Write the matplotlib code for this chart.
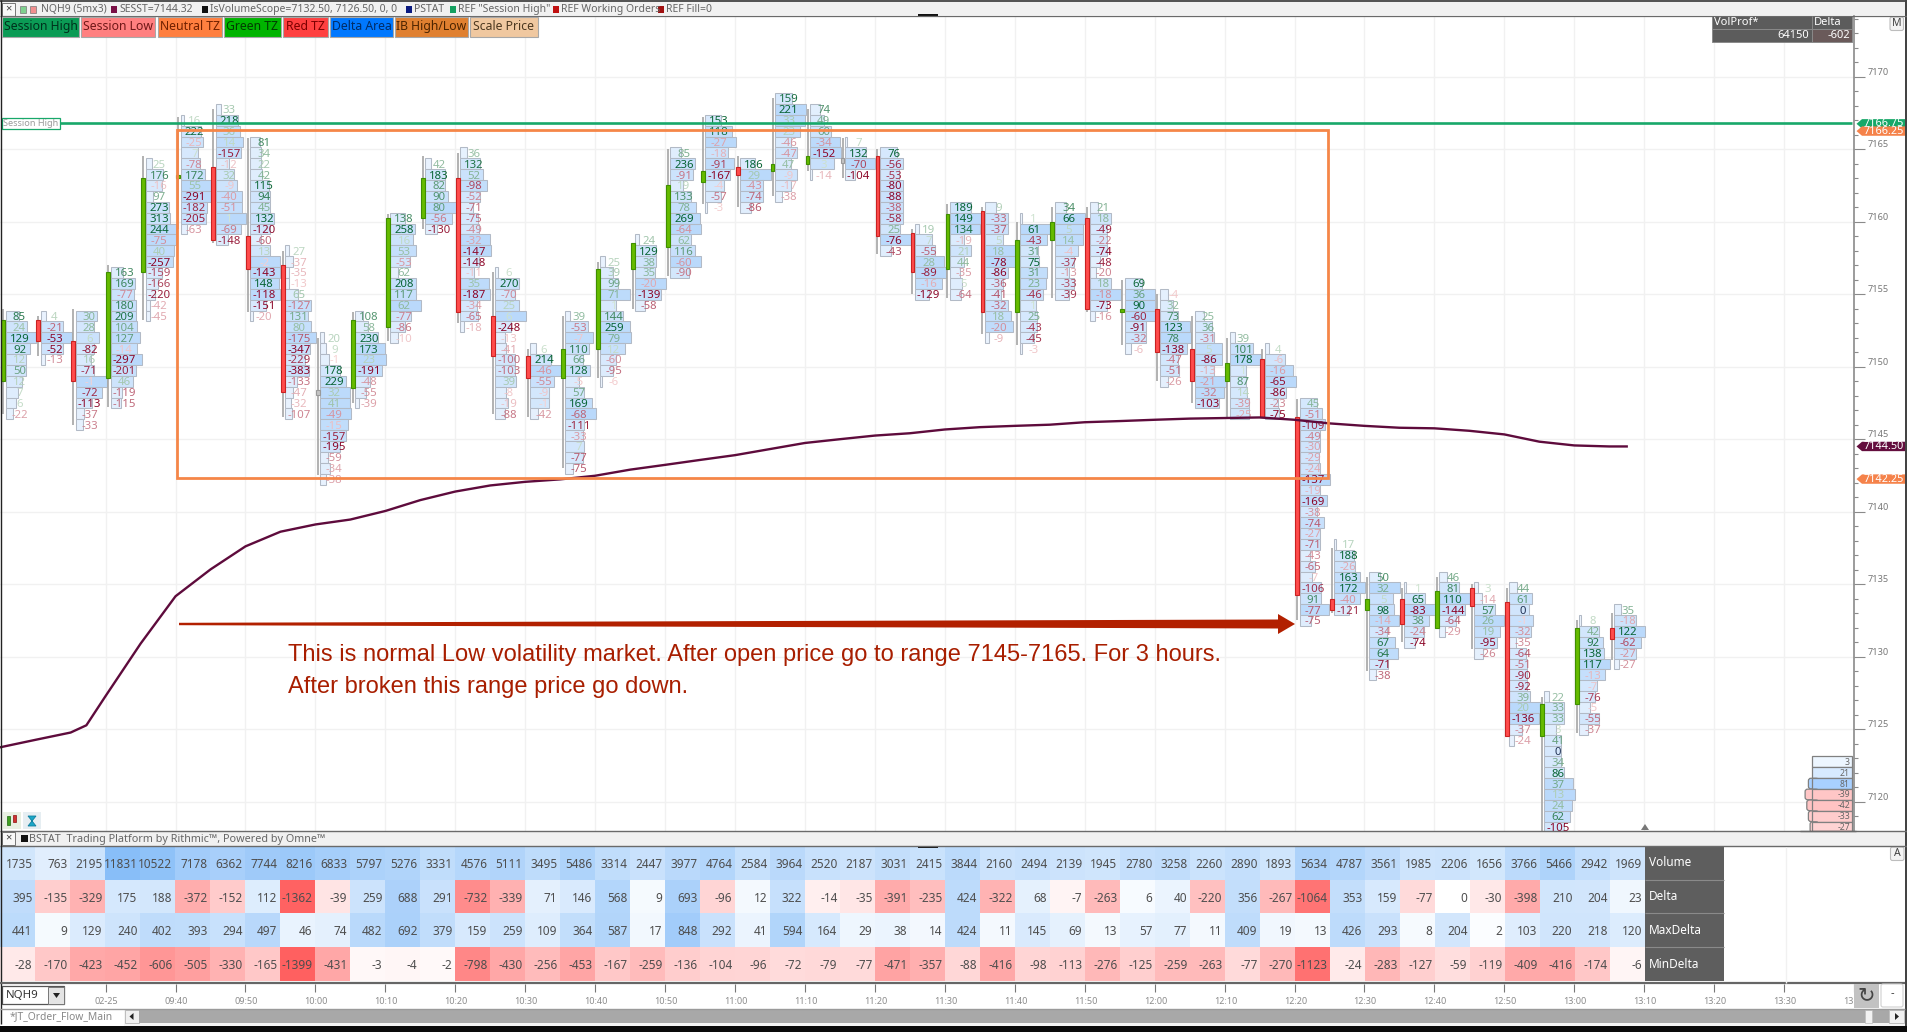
#!/usr/bin/env python3
"""Order flow footprint chart of NQH9 with the BSTAT table underneath."""
import matplotlib
matplotlib.use("Agg")
import matplotlib.pyplot as plt
from matplotlib.patches import FancyBboxPatch, Polygon, Rectangle

W, H = 1908, 1032
PANE_BOTTOM = 831
PANE_TOP = 16
AXIS_X = 1854
PX_PER_BAR = 35.0
X0 = 0.7
PX_PER_POINT = 14.5
ROW = 0.75

bar_tops = [7153.5, 7153.5, 7153.5, 7156.5, 7164, 7167, 7167.75, 7165.5, 7158, 7152, 7153.5, 7160.25,
            7164, 7164.75, 7156.5, 7151.25, 7153.5, 7157.25, 7158.75, 7164.75, 7167, 7164, 7168.5, 7167.75,
            7165.5, 7164.75, 7159.5, 7161, 7161, 7160.25, 7161, 7161, 7155.75, 7155, 7153.5, 7152,
            7151.25, 7147.5, 7137.75, 7135.5, 7134.75, 7135.5, 7134.75, 7134.75, 7127.25, 7132.5, 7133.25]

bar_deltas = [
    [85, 24, 129, 92, 12, 50, 12, 7, 6, -22],
    [4, -21, -53, -52, -13],
    [30, 28, 6, -82, 16, -71, -1, -72, -113, -37, -33],
    [163, 169, -77, 180, 209, 104, 127, -14, -297, -201, 46, -119, -115],
    [25, 176, -16, 97, 273, 313, 244, -75, 40, -257, -159, -166, -220, -42, -45],
    [16, 222, -25, 7, -78, 172, 55, -291, -182, -205, -63],
    [33, 218, 36, 14, -157, -12, 32, -9, -40, -51, 1, -69, -148],
    [81, 34, 22, 42, 115, 94, 45, 132, -120, -60, 13, -2, -143, 148, -118, -151, -20],
    [27, -37, -35, -13, 65, -127, 131, 80, -175, -347, -229, -383, -133, -47, -32, -107],
    [20, 9, -1, 178, 229, 32, 41, -49, -15, -157, -195, -59, -34, -38],
    [108, 58, 230, 173, 23, -191, -48, -55, -39],
    [138, 258, 16, 53, -53, 62, 208, 117, 62, -77, -86, -10],
    [42, 183, 82, 90, 80, -56, -130],
    [36, 132, 52, -98, -52, -71, -75, -49, -32, -147, -148, -11, 35, -187, -34, -65, -18],
    [6, 270, -70, 25, 6, -248, -13, -41, -100, -103, 39, -8, -19, -88],
    [6, 214, -46, -55, -9, -1, -42],
    [39, -53, -7, 110, 66, 128, -5, 57, 169, -68, -111, -33, 7, -77, -75],
    [25, 39, 99, 71, 1, 144, 259, 79, 12, -60, -95, -6],
    [24, 129, 38, 35, -20, -139, -58],
    [85, 236, -91, 19, 133, 78, 269, -64, 62, 116, -60, -90],
    [153, 118, -27, -18, -91, -167, -4, -57, -3],
    [186, 29, -43, -74, -86],
    [159, 221, 33, 23, -46, -47, 47, -9, -17, -38],
    [74, 49, 60, -34, -152, 3, -14],
    [7, 132, -70, -104],
    [76, -56, -53, -80, -88, -38, -58, 25, -76, -43],
    [19, 7, -55, 28, -89, -16, -129],
    [189, 149, 134, -19, 21, 44, -35, 5, -64],
    [9, -33, -37, 5, 18, -78, -86, -36, -41, -32, 18, -20, -9],
    [1, 61, -43, 31, 75, 31, 23, -46, 1, 25, -43, -45, -3],
    [34, 66, 5, 14, -4, -37, -13, -33, -39],
    [21, 18, -49, -22, -74, -48, -20, 18, -18, -73, -16],
    [69, 36, 90, -60, -91, -32, -6],
    [-4, 32, 73, 123, 78, -138, -47, -51, -26],
    [25, 36, -31, 5, -86, -13, -21, -32, -103],
    [39, 101, 178, 1, 87, 14, -39, -25],
    [4, -6, -16, -65, -86, -23, -75],
    [45, -51, -109, -49, -30, -29, -24, -137, -19, -169, -38, -74, -27, -71, -43, -65, -7, -106, 91, -77, -75],
    [17, 188, -26, 163, 172, -40, -121],
    [50, 32, 5, 98, -14, -34, 67, 64, -71, -38],
    [1, 65, -83, 38, -24, -74],
    [46, 81, 110, -144, -64, -29],
    [3, -14, 57, 26, 19, -95, -26],
    [44, 61, 0, -1, -32, -35, -64, -51, -90, -92, 39, 20, -136, -37, -24],
    [22, 33, 33, 3, 41, 0, 34, 86, 37, 13, 24, 62, -105],
    [8, 42, 92, 138, 117, -13, -7, -76, -5, -55, -37],
    [35, -18, 122, -62, -27, -27],
]

# row volume of each price level, normalised per bar (31 = biggest level of the bar)
bar_vols = [
    [13, 21, 30, 24, 20, 20, 16, 12, 10, 7],
    [5, 22, 31, 22, 4],
    [21, 18, 23, 18, 15, 18, 31, 26, 16, 8, 7],
    [12, 24, 23, 25, 25, 26, 29, 26, 31, 25, 22, 11, 10],
    [6, 17, 16, 7.5, 23.5, 24, 30, 30, 28, 27, 16, 12.5, 9.5, 4, 4],
    [3.5, 20, 22, 17, 19, 24, 30, 30, 26, 25, 6.5],
    [6, 23, 25, 28, 26, 14, 19, 22, 26.5, 26.5, 31, 26, 13],
    [10, 11, 11, 12, 19, 20, 20, 24, 20, 11, 20, 30, 30, 28.5, 30, 16, 3],
    [4, 8, 4, 4, 12.5, 26, 23, 26, 31, 25, 20, 24, 12, 8, 6, 7],
    [3.5, 6, 8.5, 19.5, 26, 30, 29.5, 31, 27.5, 26, 20, 8, 10, 6],
    [8, 12.5, 22.5, 30, 31, 27, 15, 11, 3.5],
    [14.5, 24.5, 22.5, 26, 19.5, 8, 26, 26, 31, 21, 14.5, 8],
    [5.5, 20, 20, 23, 31, 26.5, 12],
    [7, 19.5, 23, 27, 19.5, 13, 17.5, 18.5, 30, 31, 18.5, 13.5, 29, 29.5, 17, 18, 3.5],
    [2.5, 23.5, 19.5, 24, 31, 16, 9.5, 11, 19.5, 19.5, 20.5, 11, 12.5, 9.5],
    [6, 21, 31, 23.5, 18.5, 18.5, 8],
    [5, 22.5, 27.5, 23.5, 17.5, 24.5, 14, 19, 27, 31, 19, 17.5, 19, 17.5, 8],
    [5, 13, 18, 29.5, 16, 23, 29.5, 31, 25, 16, 13, 2],
    [4, 21, 21, 19.5, 31, 26, 10],
    [11, 24.5, 22.5, 13, 21, 25.5, 30, 31, 21, 24.5, 31, 18.5],
    [16, 27, 31, 22.5, 28.5, 25, 19, 16, 1.5],
    [15, 31, 23.5, 22.5, 11],
    [17, 31, 30, 25, 16.5, 22, 16, 22, 16, 7],
    [10, 14.5, 21, 30, 31, 24.5, 2.5],
    [2, 21, 30.5, 10],
    [17, 23, 19.5, 23.5, 23.5, 23.5, 23.5, 20, 31, 11],
    [4, 17, 20, 29.5, 31, 27, 14.5],
    [21, 31, 30, 14.5, 21, 14.5, 10, 12, 11],
    [11, 23, 23.5, 18.5, 31, 31, 23.5, 18, 16, 23, 26, 28, 4.5],
    [2, 31, 27.5, 18.5, 19.5, 27, 26.5, 23.5, 16, 17.5, 17.5, 14.5, 2],
    [11, 30.5, 28.5, 28.5, 23, 19.5, 14.5, 19.5, 14.5],
    [8, 21, 17, 17, 17.5, 10, 6, 21, 31, 17, 5],
    [17, 30, 30, 31, 21.5, 21.5, 6],
    [8.5, 13, 18.5, 30, 31, 27, 18.5, 19, 8],
    [9.5, 17.5, 19, 27, 27.5, 19, 31, 29.5, 24],
    [5, 23.5, 31, 16, 16, 17.5, 19, 19],
    [4.5, 20, 28.5, 31, 21, 13, 14.5],
    [17.5, 22.5, 26, 21, 21, 20, 21, 31, 21, 27.5, 17.5, 25, 21, 21, 11, 16, 12.5, 22, 22, 29.5, 12],
    [2, 19.5, 21, 26, 31, 26, 14.5],
    [11, 31, 23.5, 24.5, 29.5, 18, 26, 28.5, 19, 7],
    [2, 21, 31, 24.5, 19.5, 11],
    [7.5, 20, 31, 26, 17, 6],
    [3.5, 8, 21, 30, 26, 22.5, 8.5],
    [8, 23, 20, 24, 22, 7, 17, 18, 18, 18, 21, 31, 29.5, 13, 5],
    [5, 19.5, 19.5, 12, 17, 17, 17, 19.5, 29, 31, 28, 26, 19.5],
    [2, 19.5, 23.5, 24.5, 31, 26, 18, 16, 11, 19.5, 9],
    [7, 22, 31, 27, 22, 5],
]

bar_open = [7149, 7153.25, 7151.75, 7149.25, 7156.5, 7163, 7163.75, 7159, 7157, 7148.25, 7148.5, 7152.75,
            7160.25, 7163, 7153.5, 7150.75, 7149.25, 7151.25, 7156.75, 7158.25, 7162.75, 7163.75, 7163.5, 7164,
            7164.25, 7164.5, 7159.25, 7156.75, 7160.75, 7153.75, 7158.75, 7160.25, 7153.75, 7154, 7151.25, 7149,
            7150.5, 7146.5, 7134, 7133.25, 7134, 7132, 7134.75, 7133.75, 7124.5, 7126.75, 7132]
bar_close = [7153.25, 7151.75, 7149, 7156.5, 7163, 7163.25, 7158.75, 7156.75, 7148.25, 7148.25, 7153.25, 7160.25,
             7163, 7153.75, 7150.75, 7149.25, 7151.25, 7156.75, 7158.5, 7162.5, 7163.5, 7163.25, 7164, 7164.5,
             7164.25, 7159, 7156.5, 7160.5, 7153.75, 7158.75, 7160, 7154, 7154, 7151, 7149, 7150.25,
             7146.5, 7134.25, 7133.25, 7134, 7132.25, 7134.5, 7133.5, 7124.5, 7126.75, 7132, 7131.25]
bar_high = [7154, 7153.5, 7154, 7157, 7164.5, 7167.25, 7167.75, 7165.75, 7158, 7152, 7153.75, 7160.5,
            7164.5, 7164.75, 7156.5, 7151.25, 7153.5, 7157.25, 7158.5, 7165, 7167.25, 7164.5, 7168.5, 7167.75,
            7165.75, 7165, 7159.5, 7161.25, 7161, 7160, 7161, 7161, 7156, 7155, 7153.5, 7152,
            7151.25, 7147.75, 7137.5, 7135.5, 7134.75, 7135.5, 7135, 7134.75, 7127.25, 7132.5, 7133]
bar_low = [7146.75, 7150.75, 7146, 7147.25, 7153.25, 7159.5, 7158.5, 7153.75, 7146.5, 7142.5, 7147.5, 7151.75,
           7159.5, 7153, 7146.75, 7146.5, 7143, 7149.25, 7154, 7156.25, 7161.25, 7161, 7161.75, 7163.5,
           7163, 7157.75, 7155, 7154.75, 7152.25, 7151.5, 7154.75, 7153.75, 7151.5, 7149, 7147.5, 7146.5,
           7146.5, 7132.5, 7133, 7129, 7131, 7132, 7130.5, 7124.5, 7118, 7124.75, 7129.75]

vwap_bars = [0, 1, 2, 2.45] + list(range(3, 47)) + [46.5]
vwap_prices = [7123.76, 7124.27, 7124.77, 7125.27, 7127.29, 7130.90, 7134.17, 7136.02, 7137.61, 7138.62, 7139.12,
               7139.46, 7140.05, 7140.80, 7141.39, 7141.81, 7142.06, 7142.23, 7142.48, 7142.90, 7143.23,
               7143.57, 7143.90, 7144.32, 7144.74, 7145.00, 7145.25, 7145.41, 7145.67, 7145.83, 7145.92,
               7146.00, 7146.17, 7146.25, 7146.34, 7146.42, 7146.46, 7146.50, 7146.34, 7146.09, 7145.92,
               7145.79, 7145.75, 7145.58, 7145.33, 7144.83, 7144.57, 7144.50, 7144.50]

table_labels = ["Volume", "Delta", "MaxDelta", "MinDelta"]
volume = [1735, 763, 2195, 11831, 10522, 7178, 6362, 7744, 8216, 6833, 5797, 5276, 3331, 4576, 5111, 3495,
          5486, 3314, 2447, 3977, 4764, 2584, 3964, 2520, 2187, 3031, 2415, 3844, 2160, 2494, 2139, 1945,
          2780, 3258, 2260, 2890, 1893, 5634, 4787, 3561, 1985, 2206, 1656, 3766, 5466, 2942, 1969]
delta = [395, -135, -329, 175, 188, -372, -152, 112, -1362, -39, 259, 688, 291, -732, -339, 71,
         146, 568, 9, 693, -96, 12, 322, -14, -35, -391, -235, 424, -322, 68, -7, -263,
         6, 40, -220, 356, -267, -1064, 353, 159, -77, 0, -30, -398, 210, 204, 23]
max_delta = [441, 9, 129, 240, 402, 393, 294, 497, 46, 74, 482, 692, 379, 159, 259, 109,
             364, 587, 17, 848, 292, 41, 594, 164, 29, 38, 14, 424, 11, 145, 69, 13,
             57, 77, 11, 409, 19, 13, 426, 293, 8, 204, 2, 103, 220, 218, 120]
min_delta = [-28, -170, -423, -452, -606, -505, -330, -165, -1399, -431, -3, -4, -2, -798, -430, -256,
             -453, -167, -259, -136, -104, -96, -72, -79, -77, -471, -357, -88, -416, -98, -113, -276,
             -125, -259, -263, -77, -270, -1123, -24, -283, -127, -59, -119, -409, -416, -174, -6]

time_ticks = [3, 5, 7, 9, 11, 13, 15, 17, 19, 21, 23, 25, 27, 29, 31, 33, 35, 37, 39, 41, 43, 45, 47, 49, 51, 53]
time_labels = ["02-25", "09:40", "09:50", "10:00", "10:10", "10:20", "10:30", "10:40", "10:50", "11:00",
               "11:10", "11:20", "11:30", "11:40", "11:50", "12:00", "12:10", "12:20", "12:30", "12:40",
               "12:50", "13:00", "13:10", "13:20", "13:30", "13:40"]

profile_top = 7122.75
profile_deltas = [3, 21, 81, -39, -42, -33, -27]
profile_bumps = [0, 0, 3.4, 6.7, 5, 3.4, 1.7]

buttons = [("Session High", 2, 79, "#0B9B55", "#00301c"), ("Session Low", 81, 155, "#FF8080", "#701818"),
           ("Neutral TZ", 158, 222, "#FF7F3F", "#702000"), ("Green TZ", 224, 281, "#00B400", "#003c00"),
           ("Red TZ", 283, 328, "#FF4040", "#7c0000"), ("Delta Area", 330, 393, "#0078FF", "#002c66"),
           ("IB High/Low", 395, 468, "#E08030", "#4c2400"), ("Scale Price", 470, 538, "#F0C8A0", "#4c3820")]

header_items = [(20, "#7fd08f", ""), (30, "#f08f8f", ""), (None, None, "NQH9 (5mx3)", 41),
                (111, "#7a1046", "SESST=7144.32"), (202, "#111111", "IsVolumeScope=7132.50, 7126.50, 0, 0"),
                (406, "#0a1a80", "PSTAT"), (450, "#14a060", 'REF "Session High"'),
                (553, "#c01010", "REF Working Orders"), (658, "#a01010", "REF Fill=0")]

FONT = "Noto Sans"
plt.rcParams["font.family"] = [FONT, "DejaVu Sans"]


def mix(c0, c1, t):
    t = max(0.0, min(1.0, t))
    return tuple((a + (b - a) * t) / 255.0 for a, b in zip(c0, c1))


def price_y(price):
    return 76.7 + (7170 - price) * PX_PER_POINT


def px_bar(px):
    return (px - X0) / PX_PER_BAR


def axes_px(fig, left, top, right, bottom):
    return fig.add_axes([left / W, 1 - bottom / H, (right - left) / W, (bottom - top) / H])


def text_color(value, biggest):
    if value == 0:
        return "#223355"
    t = min(1.0, abs(value) / biggest * 1.25) ** 0.9
    if value > 0:
        return mix((212, 230, 212), (8, 100, 52), t)
    return mix((247, 212, 212), (140, 6, 40), t)


def draw_footprint(ax, k):
    deltas = bar_deltas[k]
    vols = bar_vols[k]
    biggest = max(abs(d) for d in deltas) or 1
    x = k + 2.6 / PX_PER_BAR
    left = x + 2.4 / PX_PER_BAR
    for i, (d, v) in enumerate(zip(deltas, vols)):
        p = bar_tops[k] - ROW * i
        fill = mix((238, 245, 254), (186, 217, 251), (v / 31) ** 1.3)
        ax.add_patch(Rectangle((left, p - ROW / 2), v / PX_PER_BAR, ROW, facecolor=fill,
                               edgecolor="#b2bac6", linewidth=0.75, zorder=2))
        ax.text(x + 16.2 / PX_PER_BAR, p, str(d), ha="center", va="center_baseline", fontsize=8.2,
                color=text_color(d, biggest), zorder=3, clip_on=True)
    ax.vlines(x, bar_low[k], bar_high[k], color="#a8a8a8", linewidth=1.25, zorder=4)
    o, c = bar_open[k], bar_close[k]
    if c > o:
        face, edge = "#66BB00", "#3f8f00"
    elif c < o:
        face, edge = "#FF4C4C", "#c92222"
    else:
        face, edge = "#c4c4c4", "#9a9a9a"
    low = min(o, c) if o != c else o - 0.17
    height = abs(o - c) if o != c else 0.34
    ax.add_patch(Rectangle((x - 1.9 / PX_PER_BAR, low), 3.8 / PX_PER_BAR, height, facecolor=face,
                           edgecolor=edge, linewidth=0.8, zorder=5))


def draw_table(tb):
    rows = [volume, delta, max_delta, min_delta]
    scale = [max(volume)] + [max(abs(v) for v in min_delta)] * 3
    for j, values in enumerate(rows):
        for i, v in enumerate(values):
            t = (abs(v) / scale[j]) ** 0.5
            color = mix((255, 255, 255), (255, 96, 96), t) if v < 0 else mix((255, 255, 255), (136, 190, 248), t)
            tb.add_patch(Rectangle((i, j), 1, 1, facecolor=color, edgecolor="none"))
            tb.text(i + 1 - 2.5 / PX_PER_BAR, j + 0.5, str(v), ha="right", va="center_baseline",
                    fontsize=8.5, color="#4e4e4e", clip_on=True)


def main():
    fig = plt.figure(figsize=(W / 100, H / 100), dpi=100, facecolor="white")

    ax = axes_px(fig, 0, PANE_TOP, AXIS_X, PANE_BOTTOM)
    ax.set_xlim(px_bar(0), px_bar(AXIS_X))
    ax.set_ylim(7170 - (PANE_BOTTOM - 76.7) / PX_PER_POINT, 7170 + (76.7 - PANE_TOP) / PX_PER_POINT)
    ax.set_xticks(time_ticks)
    ax.set_yticks(range(7120, 7175, 5))
    ax.set_yticks(range(7118, 7175), minor=True)
    ax.grid(True, which="major", color="#f1f1f1", linewidth=1.0, zorder=0)
    ax.set_axisbelow(True)
    for name in ("top", "left", "bottom"):
        ax.spines[name].set_visible(False)
    ax.spines["right"].set_color("#8a8a8a")
    ax.spines["right"].set_linewidth(1.2)
    ax.tick_params(axis="x", length=0, labelbottom=False)
    ax.tick_params(axis="y", which="major", left=False, right=True, labelleft=False, labelright=True,
                   length=8, width=0.8, color="#8a8a8a", pad=2, labelsize=6.6, labelcolor="#777777")
    ax.tick_params(axis="y", which="minor", left=False, right=True, length=3, width=0.8, color="#8a8a8a")
    for label in ax.get_yticklabels():
        label.set_va("bottom")

    for k in range(len(bar_tops)):
        draw_footprint(ax, k)

    ax.plot(vwap_bars, vwap_prices, color="#5e0b3c", linewidth=1.7, zorder=6)
    ax.hlines(7166.8, px_bar(60), px_bar(AXIS_X), color="#18A86A", linewidth=1.9, zorder=6)
    ax.add_patch(Rectangle((px_bar(177.5), 7142.35), px_bar(1329.5) - px_bar(177.5), 23.95, facecolor="none",
                           edgecolor="#F58648", linewidth=2.0, zorder=7))

    tb = axes_px(fig, 0, 846, 1645, 980.7)
    tb.set_xlim(0, 47)
    tb.set_ylim(4, 0)
    tb.axis("off")
    draw_table(tb)

    tx = axes_px(fig, 0, 984, AXIS_X, 1008)
    tx.set_xlim(px_bar(0), px_bar(AXIS_X))
    tx.set_ylim(1, 0)
    tx.set_yticks([])
    for spine in tx.spines.values():
        spine.set_visible(False)
    tx.set_xticks(time_ticks)
    tx.tick_params(axis="x", top=True, bottom=False, labelbottom=False, direction="in", length=6,
                   width=0.8, color="#777777")
    for tick, label in zip(time_ticks, time_labels):
        tx.text(tick + 0.02, 0.72, label, ha="center", va="center", fontsize=6.5, color="#8c8c8c")

    ui = fig.add_axes([0, 0, 1, 1], facecolor="none")
    ui.set_xlim(0, W)
    ui.set_ylim(H, 0)
    ui.axis("off")
    rect = lambda x0, y0, x1, y1, **kw: ui.add_patch(Rectangle((x0, y0), x1 - x0, y1 - y0, **kw))
    line = lambda xs, ys, **kw: ui.plot(xs, ys, solid_capstyle="butt", **kw)

    # window frame and header strips
    rect(0, 0, W, 2, facecolor="#555555", edgecolor="none")
    rect(0, 2, W, 15, facecolor="#f1f1f1", edgecolor="none")
    line([0, W], [15.5, 15.5], color="#6a6a6a", linewidth=0.9)
    rect(0, 831, W, 846, facecolor="#f1f1f1", edgecolor="none")
    line([0, W], [831, 831], color="#6a6a6a", linewidth=1.0)
    line([0, W], [846, 846], color="#6a6a6a", linewidth=1.0)
    line([0.6, 0.6], [0, 1024], color="#222222", linewidth=1.0)
    rect(1905, 0, W, H, facecolor="#444444", edgecolor="none")
    rect(0, 1025.5, W, H, facecolor="#0a0a0a", edgecolor="none")
    line([0, W - 3], [983.3, 983.3], color="#666666", linewidth=1.6)
    line([0, W - 3], [1008.5, 1008.5], color="#9a9a9a", linewidth=1.0)

    for ytop in (3, 832):
        rect(2, ytop, 15, ytop + 12.5, facecolor="#f8f8f8", edgecolor="#777777", linewidth=0.7)
        ui.text(8.5, ytop + 6.2, "×", ha="center", va="center", fontsize=8, color="#444444")

    for item in header_items:
        if item[0] is None:
            ui.text(item[3], 9.3, item[2], va="center", fontsize=7.5, color="#666666")
            continue
        x, color, label = item
        rect(x, 6, x + 6.4, 12.5, facecolor=color, edgecolor="#777777" if not label else "none", linewidth=0.5)
        if label:
            ui.text(x + 8, 9.3, label, va="center", fontsize=7.5, color="#666666")

    rect(21, 835, 28, 842, facecolor="#111111", edgecolor="none")
    ui.text(29, 839.3, "BSTAT  Trading Platform by Rithmic™, Powered by Omne™", va="center", fontsize=7.8,
            color="#666666")

    for label, x0, x1, bg, fg in buttons:
        rect(x0, 17, x1, 37, facecolor=bg, edgecolor="#a8a8a8", linewidth=0.8, zorder=8)
        ui.text((x0 + x1) / 2, 26.8, label, ha="center", va="center", fontsize=8.8, color=fg, zorder=9)

    # session high label
    rect(2, 118, 60, 129, facecolor="white", edgecolor="#18A86A", linewidth=0.9)
    ui.text(31, 123.5, "Session High", ha="center", va="center", fontsize=6.6, color="#9a9a9a")

    # volume profile summary box
    rect(1711.7, 15.7, 1851.7, 42.3, facecolor="#5c5c5c", edgecolor="#8a8a8a", linewidth=0.7)
    rect(1811.7, 29, 1851.7, 42.3, facecolor="#6a5a5a", edgecolor="none")
    line([1711.7, 1851.7], [29, 29], color="#8a8a8a", linewidth=0.7)
    line([1811.7, 1811.7], [15.7, 42.3], color="#8a8a8a", linewidth=0.7)
    ui.text(1714, 22.8, "VolProf*", va="center", fontsize=8, color="white")
    ui.text(1814, 22.8, "Delta", va="center", fontsize=8, color="white")
    ui.text(1809, 36, "64150", ha="right", va="center", fontsize=8, color="white")
    ui.text(1850, 36, "-602", ha="right", va="center", fontsize=8, color="white")

    for label, x0, y0 in (("M", 1890, 17), ("A", 1890.5, 847)):
        ui.add_patch(FancyBboxPatch((x0 + 1, y0 + 1), 11.5, 11.5, boxstyle="round,pad=1,rounding_size=2",
                                    facecolor="#f4f4f4", edgecolor="#bdbdbd", linewidth=0.8))
        ui.text(x0 + 6.8, y0 + 6.8, label, ha="center", va="center", fontsize=7.6, color="#444444")

    # price tags on the axis
    tags = [(7166.75, "#16A868", "7166.75"), (7166.25, "#F5824A", "7166.25"),
            (7144.50, "#640E3E", "7144.50"), (7142.25, "#F5824A", "7142.25")]
    for price, color, label in tags:
        y = price_y(price)
        ui.add_patch(Polygon([(1856.5, y), (1862, y - 4.7), (1905, y - 4.7), (1905, y + 4.7), (1862, y + 4.7)],
                             facecolor=color, edgecolor="none"))
        ui.text(1864, y, label, va="center", fontsize=7.8, color="white")

    # annotation arrow and note
    arrow_y = 624
    ui.add_patch(Polygon([(179, arrow_y - 1.2), (1278, arrow_y - 4.5), (1278, arrow_y - 10), (1295, arrow_y),
                          (1278, arrow_y + 10), (1278, arrow_y + 4.5), (179, arrow_y + 1.2)],
                         facecolor="#B22000", edgecolor="none"))
    note = ["This is normal Low volatility market. After open price go to range 7145-7165. For 3 hours.",
            "After broken this range price go down."]
    for y, txt in zip((655.5, 686.5), note):
        ui.text(288, y, txt, va="center", fontsize=17.0, color="#A81E00", family="Liberation Sans")

    # volume profile at the bottom right
    biggest = max(abs(d) for d in profile_deltas)
    for i, (d, bump) in enumerate(zip(profile_deltas, profile_bumps)):
        y = price_y(profile_top - ROW * i)
        t = (abs(d) / biggest) ** 0.7
        color = mix((255, 255, 255), (255, 160, 160), t) if d < 0 else mix((245, 250, 255), (168, 208, 255), t)
        if bump:
            ui.add_patch(FancyBboxPatch((1811.7 - bump + 1, y - 4.4), bump + 5, 8.8,
                                        boxstyle="round,pad=0.9,rounding_size=2.5", facecolor=color,
                                        edgecolor="#808080", linewidth=0.9))
        rect(1811.7, y - 5.44, 1851.7, min(y + 5.44, 831), facecolor=color, edgecolor="#808080", linewidth=0.9)
        ui.text(1850, y + 0.5, str(d), ha="right", va="center", fontsize=6.2, color="#666666")
    rect(1804, 831.6, 1853, 845, facecolor="#f1f1f1", edgecolor="none")
    line([1800, 1856], [831, 831], color="#6a6a6a", linewidth=1.0)

    # small marks at the pane edges
    rect(917.6, 846, 938, 848, facecolor="#111111", edgecolor="none")
    rect(917.6, 14, 938, 16.5, facecolor="#111111", edgecolor="none")
    ui.add_patch(Polygon([(1641, 830), (1645, 824), (1649, 830)], facecolor="#777777", edgecolor="none"))

    # chart type icons
    rect(3, 812, 21, 829, facecolor="#e8efe2", edgecolor="none")
    rect(23, 812, 41, 829, facecolor="#e6eef2", edgecolor="none")
    rect(7, 816, 10, 825, facecolor="#3f9f20", edgecolor="#1d6b10", linewidth=0.5)
    rect(13, 815, 16, 822, facecolor="#d03030", edgecolor="#8b1010", linewidth=0.5)
    ui.add_patch(Polygon([(28, 816), (36, 816), (32, 821), (36, 826), (28, 826), (32, 821)],
                         facecolor="#1aa7c8", edgecolor="#0f7f9f", linewidth=0.6))

    # table label panel
    rect(1645, 846, 1724.5, 980.7, facecolor="#5e5e5e", edgecolor="none")
    for j, label in enumerate(table_labels):
        y = 846 + 33.67 * j
        ui.text(1649, y + 17, label, va="center", fontsize=8.5, color="white")
        if j:
            line([1645, 1724.5], [y, y], color="#8a8a8a", linewidth=0.8)
    line([1785.7, 1785.7], [847, 983], color="#f1f1f1", linewidth=1.0)

    # symbol selector
    rect(2, 986, 64.5, 1004, facecolor="white", edgecolor="#555555", linewidth=0.9)
    ui.text(6, 995, "NQH9", va="center", fontsize=8.2, color="#333333")
    rect(48, 987, 64.5, 1003.5, facecolor="#e4e4e4", edgecolor="#777777", linewidth=0.7)
    ui.add_patch(Polygon([(53, 993), (60, 993), (56.5, 998)], facecolor="#222222", edgecolor="none"))

    # refresh button and zoom out button
    rect(1854, 983.5, 1879, 1008, facecolor="#c2c2c2", edgecolor="none", zorder=8)
    ui.text(1866.5, 995.5, "↻", ha="center", va="center", fontsize=15, color="#444444", zorder=9,
            family="DejaVu Sans")
    ui.add_patch(FancyBboxPatch((1882, 985), 20, 21, boxstyle="round,pad=1,rounding_size=2", facecolor="white",
                                edgecolor="#cfcfcf", linewidth=0.8, zorder=8))
    ui.text(1892, 994, "-", ha="center", va="center", fontsize=8, color="#333333", zorder=9)

    # tab row and scrollbar
    rect(0, 1009, 1905, 1025.5, facecolor="#f4f4f4", edgecolor="none")
    rect(1, 1009, 124, 1025.5, facecolor="white", edgecolor="none")
    ui.text(10, 1017, "*JT_Order_Flow_Main", va="center", fontsize=7.4, color="#888888")
    rect(125, 1010, 139, 1023, facecolor="#f0f0f0", edgecolor="#bdbdbd", linewidth=0.7)
    ui.add_patch(Polygon([(133.5, 1013), (133.5, 1020), (129.5, 1016.5)], facecolor="#222222", edgecolor="none"))
    rect(139, 1010, 1889, 1023, facecolor="#a8a8a8", edgecolor="none")
    rect(1865, 1010, 1872, 1023, facecolor="#f2f2f2", edgecolor="#bdbdbd", linewidth=0.5)
    rect(1889, 1010, 1904, 1023, facecolor="#f0f0f0", edgecolor="#bdbdbd", linewidth=0.7)
    ui.add_patch(Polygon([(1895, 1013), (1895, 1020), (1899, 1016.5)], facecolor="#222222", edgecolor="none"))

    fig.savefig("out.png", dpi=100, facecolor="white")
    plt.close(fig)


if __name__ == "__main__":
    main()
